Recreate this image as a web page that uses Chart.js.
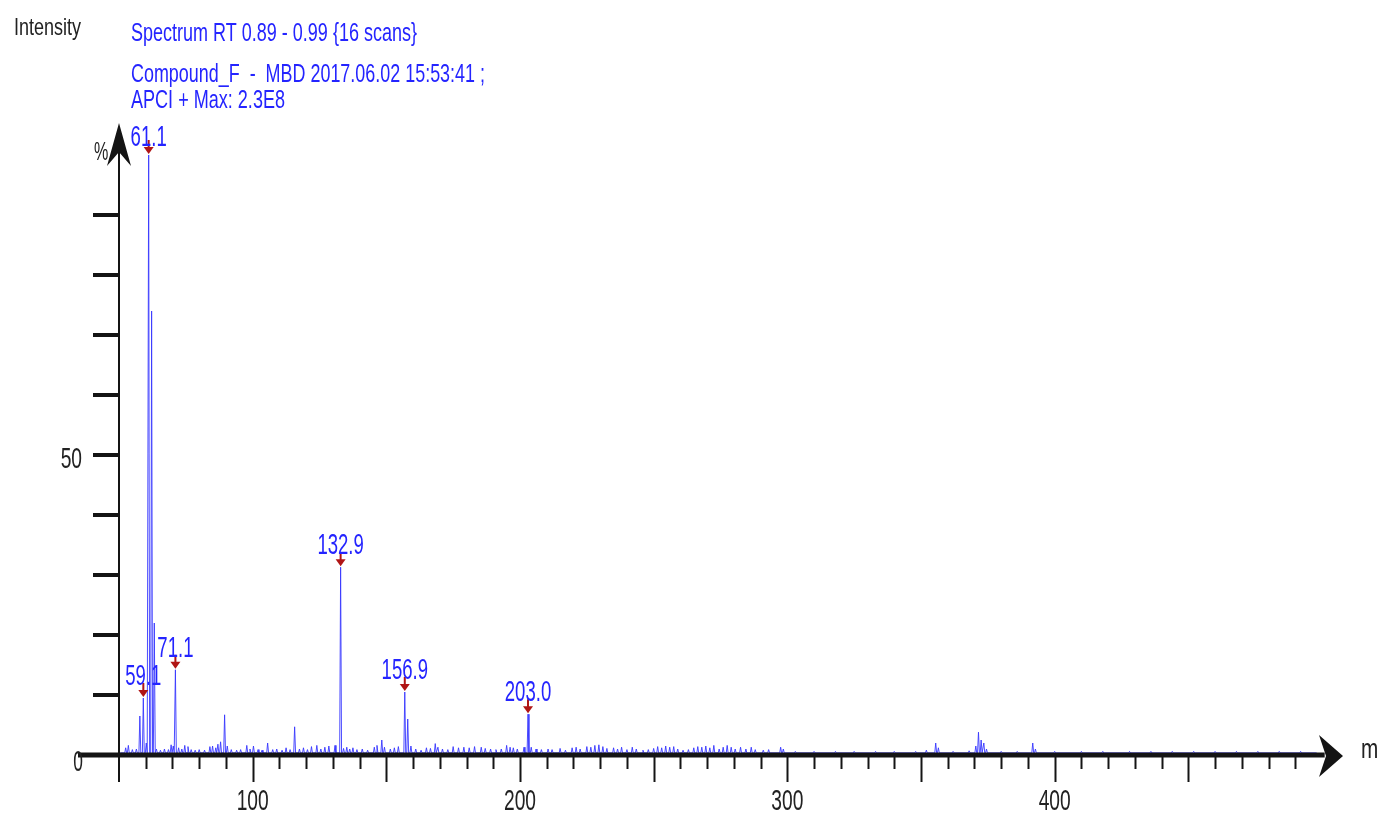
<!DOCTYPE html>
<html><head><meta charset="utf-8">
<script src="https://cdn.jsdelivr.net/npm/chart.js@4.4.0/dist/chart.umd.min.js"></script>
<style>html,body{margin:0;padding:0;background:#fff;overflow:hidden}#wrap{width:1378px;height:817px}</style>
</head><body><div id="wrap"><canvas id="c" width="1378" height="817"></canvas></div>
<script>
// ---- data ----
const labeledMz   = [59.1, 61.1, 71.1, 132.9, 156.9, 203.0];
const labeledInt  = [9.5, 100, 14.2, 31.3, 10.5, 6.8];
const labeledText = ['59.1', '61.1', '71.1', '132.9', '156.9', '203.0'];

const otherMz = [52.5, 53.5, 55, 56.5, 57.8, 60.2, 62.2, 63.2, 64, 65.5, 67, 68.5, 69.5, 70.3, 72.3, 73.5, 74.6, 75.8, 77, 78.5,
  80, 82, 84, 85, 86.2, 87, 88, 89.5, 90.5, 92, 94, 95.5, 97.8, 99, 100.3, 102, 103.5, 105.6, 107.5, 109,
  111, 112.5, 114, 115.7, 117.5, 119, 120.5, 122, 124, 125.5, 127, 128.5, 130.8, 134, 135.2, 136.3, 137.5, 139, 141, 143,
  145.5, 146.5, 148.3, 149.3, 151.5, 153, 154.5, 158, 159.2, 161, 163, 165, 166.5, 168.3, 169.3, 171, 173, 175, 177, 179,
  181, 183, 185.5, 187, 189, 191, 193, 195, 196.3, 197.5, 199, 201.5, 204.2, 206, 208, 210.5, 212, 215, 217, 219.5,
  221, 222.5, 225, 226.5, 228, 229.5, 231, 232.5, 235, 236.5, 238, 240, 242, 243.5, 246, 248, 250, 251.5, 253, 254.5,
  256, 257.5, 259, 261, 263, 265, 266.5, 268, 269.5, 271, 272.5, 274.5, 276, 277.5, 279, 280.5, 282.5, 284.5, 286.5, 288,
  291, 293, 297.5, 298.5, 303, 310, 318, 325, 333, 340, 348, 352, 355.5, 356.5, 362, 368, 370.5, 371.5, 372.5, 373.5,
  374.5, 380, 386, 391.8, 392.8, 400, 410, 418, 428, 436, 444, 452, 460, 468, 476, 484, 492];
const otherInt = [1.2, 1.6, 0.9, 1.0, 6.5, 2.0, 74, 22, 1.0, 0.8, 1.0, 0.9, 1.7, 1.5, 1.2, 1.0, 1.6, 1.4, 0.9, 0.8,
  0.9, 0.8, 1.4, 1.5, 1.2, 1.8, 2.2, 6.7, 1.5, 0.9, 0.8, 0.9, 1.6, 1.0, 1.5, 0.9, 0.8, 2.0, 0.9, 1.0,
  0.8, 1.2, 0.9, 4.7, 1.0, 1.2, 0.9, 1.4, 1.6, 1.0, 1.3, 1.5, 1.6, 1.1, 1.3, 1.0, 1.2, 0.9, 1.0, 0.8,
  1.3, 1.6, 2.5, 1.3, 1.0, 1.2, 1.4, 6.0, 1.5, 1.0, 0.8, 1.2, 1.1, 1.9, 1.3, 1.0, 0.9, 1.4, 1.2, 1.3,
  1.2, 1.4, 1.3, 1.1, 1.0, 0.9, 1.0, 1.6, 1.3, 1.2, 1.0, 1.3, 1.3, 1.0, 0.9, 1.0, 0.9, 1.1, 0.8, 1.2,
  1.3, 1.0, 1.4, 1.3, 1.6, 1.7, 1.4, 1.1, 1.2, 1.0, 1.3, 0.9, 1.3, 1.0, 0.8, 0.9, 1.1, 1.4, 1.2, 1.5,
  1.3, 1.4, 1.0, 0.8, 0.9, 1.2, 1.4, 1.3, 1.5, 1.2, 1.6, 1.0, 1.3, 1.6, 1.3, 1.0, 1.3, 1.0, 1.3, 0.9,
  0.8, 0.9, 1.3, 1.0, 0.6, 0.6, 0.6, 0.6, 0.6, 0.6, 0.6, 0.8, 2.0, 1.2, 0.6, 0.7, 1.5, 3.8, 2.5, 2.0,
  1.0, 0.6, 0.6, 2.0, 1.0, 0.6, 0.6, 0.6, 0.6, 0.6, 0.6, 0.6, 0.6, 0.6, 0.6, 0.6, 0.6];
const baselineLevel = 0.35;

const xTickLabels = [100, 200, 300, 400];
const yTickLabels = [0, 50];
const titleLines = ['Spectrum RT 0.89 - 0.99 {16 scans}', 'Compound_F  -  MBD 2017.06.02 15:53:41 ;', 'APCI + Max: 2.3E8'];

// ---- build profile ----
const allPeaks = labeledMz.map((m, i) => [m, labeledInt[i]]).concat(otherMz.map((m, i) => [m, otherInt[i]]));
allPeaks.sort((a, b) => a[0] - b[0]);
const pts = [{x: 50.5, y: baselineLevel}];
allPeaks.forEach(([m, h]) => {
  pts.push({x: m - 0.35, y: baselineLevel}, {x: m, y: h}, {x: m + 0.35, y: baselineLevel});
});
pts.push({x: 498, y: baselineLevel});

const BLUE_TXT = '#2424ff';
const FONT = '"Liberation Sans", Arial, sans-serif';

function drawText(ctx, s, x, y, size, sx, color, align) {
  ctx.save();
  ctx.font = size + 'px ' + FONT;
  ctx.fillStyle = color;
  ctx.textBaseline = 'alphabetic';
  const w = ctx.measureText(s).width * sx;
  const left = align === 'center' ? x - w / 2 : (align === 'right' ? x - w : x);
  ctx.translate(left, y);
  ctx.scale(sx, 1);
  ctx.fillText(s, 0, 0);
  ctx.restore();
}
function drawFit(ctx, s, x, y, size, width, color) {
  ctx.save();
  ctx.font = size + 'px ' + FONT;
  const sx = width / ctx.measureText(s).width;
  ctx.restore();
  drawText(ctx, s, x, y, size, sx, color, 'left');
}

const overlay = {
  id: 'overlay',
  afterDatasetsDraw(chart) {
    const ctx = chart.ctx;
    const xs = chart.scales.x, ys = chart.scales.y;
    const y0 = ys.getPixelForValue(0);
    const xAxisX = xs.getPixelForValue(50);
    ctx.save();
    ctx.strokeStyle = '#141414';
    ctx.fillStyle = '#141414';
    ctx.lineCap = 'butt';
    // x axis line
    ctx.lineWidth = 5;
    ctx.beginPath(); ctx.moveTo(78, y0); ctx.lineTo(xs.getPixelForValue(501), y0); ctx.stroke();
    // x arrow head
    const ax = xs.getPixelForValue(500) + 21;
    ctx.beginPath();
    ctx.moveTo(ax, y0 + 1); ctx.lineTo(ax - 24, y0 - 20); ctx.lineTo(ax - 17, y0 + 1); ctx.lineTo(ax - 24, y0 + 22); ctx.closePath(); ctx.fill();
    // x ticks
    ctx.lineWidth = 2;
    for (let v = 60; v <= 490; v += 10) {
      const px = Math.round(xs.getPixelForValue(v)) + 0.5;
      const len = (v % 50 === 0) ? 27 : 14;
      ctx.beginPath(); ctx.moveTo(px, y0); ctx.lineTo(px, y0 + len); ctx.stroke();
    }
    // y axis line
    ctx.lineWidth = 2;
    ctx.beginPath(); ctx.moveTo(xAxisX, y0 + 27); ctx.lineTo(xAxisX, 135); ctx.stroke();
    // y arrow head
    ctx.beginPath();
    ctx.moveTo(xAxisX, 123); ctx.lineTo(xAxisX + 12, 166); ctx.lineTo(xAxisX, 152); ctx.lineTo(xAxisX - 12, 166); ctx.closePath(); ctx.fill();
    // y ticks
    ctx.lineWidth = 4;
    for (let v = 10; v <= 90; v += 10) {
      const py = ys.getPixelForValue(v);
      ctx.beginPath(); ctx.moveTo(xAxisX - 26, py); ctx.lineTo(xAxisX, py); ctx.stroke();
    }
    ctx.restore();

    // axis labels
    xTickLabels.forEach(v => drawText(ctx, String(v), xs.getPixelForValue(v), y0 + 55, 30, 0.64, '#222', 'center'));
    yTickLabels.forEach(v => {
      if (v === 0) drawText(ctx, '0', 83, ys.getPixelForValue(v) + 16, 30, 0.58, '#222', 'right');
      else drawText(ctx, String(v), xAxisX - 37, ys.getPixelForValue(v) + 13, 30, 0.64, '#222', 'right');
    });
    drawText(ctx, '%', 94, 160, 26, 0.62, '#222', 'left');
    drawText(ctx, 'm/z', 1361, 758, 28, 0.74, '#222', 'left');
    drawFit(ctx, 'Intensity', 14, 35, 24, 67, '#222');

    // titles
    drawFit(ctx, titleLines[0], 131, 41, 26, 286, BLUE_TXT);
    drawFit(ctx, titleLines[1], 131, 82, 26, 354, BLUE_TXT);
    drawFit(ctx, titleLines[2], 131, 108, 26, 154, BLUE_TXT);

    // peak markers + labels
    labeledMz.forEach((m, i) => {
      const px = xs.getPixelForValue(m);
      const top = ys.getPixelForValue(labeledInt[i]);
      ctx.save();
      ctx.strokeStyle = '#b01515';
      ctx.fillStyle = '#b01515';
      ctx.lineWidth = 2;
      ctx.beginPath(); ctx.moveTo(px, top - 15); ctx.lineTo(px, top - 5); ctx.stroke();
      ctx.beginPath(); ctx.moveTo(px - 5, top - 8); ctx.lineTo(px + 5, top - 8); ctx.lineTo(px, top - 1); ctx.closePath(); ctx.fill();
      ctx.restore();
      const ty = i === 1 ? top - 9 : top - 13;
      drawText(ctx, labeledText[i], px, ty, 29, 0.64, BLUE_TXT, 'center');
    });
  }
};

new Chart(document.getElementById('c'), {
  type: 'line',
  data: {
    datasets: [{
      data: pts,
      borderColor: 'rgba(55,55,255,0.9)',
      borderWidth: 1,
      pointRadius: 0,
      tension: 0,
      fill: false
    }]
  },
  options: {
    responsive: false,
    animation: false,
    layout: {padding: {left: 119, right: 56, top: 125, bottom: 62}},
    scales: {
      x: {type: 'linear', min: 50, max: 500, display: false},
      y: {min: 0, max: 105, display: false}
    },
    plugins: {legend: {display: false}, tooltip: {enabled: false}}
  },
  plugins: [overlay]
});
</script>
</body></html>
